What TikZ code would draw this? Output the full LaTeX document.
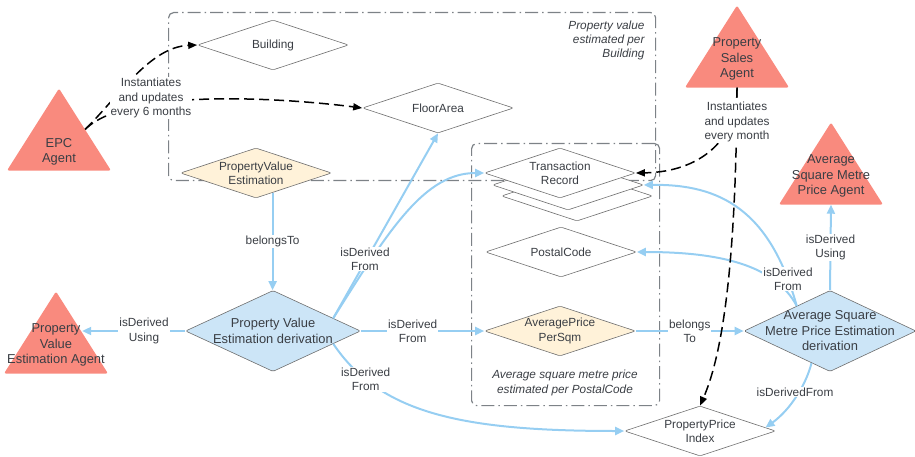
\documentclass[tikz,border=0pt]{standalone}
\usepackage{fontspec}
\setmainfont{Liberation Sans}
\usetikzlibrary{shapes.geometric, arrows.meta, positioning, calc}
\definecolor{agentred}{RGB}{249,138,126}
\definecolor{derivblue}{RGB}{204,229,247}
\definecolor{instyellow}{RGB}{255,242,217}
\definecolor{linkblue}{RGB}{150,206,242}
\definecolor{edgegray}{RGB}{110,110,110}
\definecolor{boxgray}{RGB}{125,130,135}
\definecolor{textgray}{RGB}{58,62,68}
\tikzset{
  thing/.style={diamond, draw=edgegray, fill=white, minimum width=151pt,
                minimum height=50pt, inner sep=0pt, rounded corners=1.5pt, line width=0.6pt},
  instance/.style={thing, fill=instyellow},
  deriv/.style={thing, fill=derivblue, minimum width=175pt, minimum height=81pt},
  agent/.style={isosceles triangle, isosceles triangle stretches, shape border rotate=90,
                fill=agentred, minimum width=104pt, minimum height=82pt, inner sep=0pt,
                rounded corners=2pt, anchor=apex},
  dtext/.style={font=\fontsize{11.8}{14.2}\selectfont, text=textgray, align=center},
  bigtext/.style={font=\fontsize{12.9}{15.5}\selectfont, text=textgray, align=center},
  edgelabel/.style={dtext, fill=white, inner sep=1pt},
  boxnote/.style={font=\fontsize{11.8}{14.2}\selectfont\itshape, text=textgray, align=center},
  link/.style={-{Triangle[length=9pt, width=8pt]}, linkblue, line width=2pt},
  update/.style={-{Triangle[length=9pt, width=7pt]}, black, line width=1.5pt, dash pattern=on 10pt off 5pt},
  groupbox/.style={draw=boxgray, line width=1.2pt, rounded corners=5pt, anchor=north west,
                   dash pattern=on 13pt off 4pt on 1.5pt off 4pt},
}
\begin{document}
\begin{tikzpicture}[x=1pt, y=-1pt]
  \useasboundingbox (0,0) rectangle (915,457);

  % groups
  \node[groupbox, minimum width=487pt, minimum height=168pt] (bldgroup) at (168,12) {};
  \node[groupbox, minimum width=188pt, minimum height=262pt] (pcgroup) at (471,143) {};
  \node[boxnote, anchor=north east, align=right] (bldnote) at (648,17) {Property value\\estimated per\\Building};
  \node[boxnote] (pcnote) at (565,383) {Average square metre price\\estimated per PostalCode};

  % concepts
  \node[thing, label={[dtext]center:Building}] (building) at (273,45) {};
  \node[thing, label={[dtext]center:FloorArea}] (floorarea) at (438,108) {};
  \node[instance, label={[dtext]center:PropertyValue\\Estimation}] (pve) at (256,173) {};
  \node[thing] (trec3) at (577,196) {};
  \node[thing] (trec2) at (568,185) {};
  \node[thing, label={[dtext]center:Transaction\\Record}] (trec) at (560,173) {};
  \node[thing, label={[dtext]center:PostalCode}] (postcode) at (561,252) {};
  \node[instance, label={[dtext]center:AveragePrice\\PerSqm}] (avgprice) at (560,331) {};
  \node[thing, label={[dtext]center:PropertyPrice\\Index}] (ppi) at (700,431) {};
  \node[deriv, label={[bigtext]center:Property Value\\Estimation derivation}] (pved) at (273,331) {};
  \node[deriv, minimum width=172pt, label={[bigtext]center:Average Square\\Metre Price Estimation\\derivation}] (asmped) at (830,331) {};

  % agents
  \node[agent] (epc) at (59,88) {};
  \node[bigtext] (epctext) at (59,152) {EPC\\Agent};
  \node[agent] (sales) at (737,5) {};
  \node[bigtext] (salestext) at (737,59) {Property\\Sales\\Agent};
  \node[agent] (asmpagent) at (831,122) {};
  \node[bigtext] (asmptext) at (831,176) {Average\\Square Metre\\Price Agent};
  \node[agent] (pvagent) at (56,291) {};
  \node[bigtext] (pvtext) at (56,345) {Property\\Value\\Estimation Agent};

  % derivation links
  \draw[link] (pve.-50) -- (pve.-50 |- pved.north) node[edgelabel, midway] {belongsTo};
  \draw[link] (pved.west) -- (pved.west -| pvagent.right side) node[edgelabel, pos=0.4] {isDerived\\Using};
  \draw[link] (pved.east) -- (avgprice.west) node[edgelabel, pos=0.42] {isDerived\\From};
  \draw[link] (pved.12) -- (floorarea.south);
  \draw[link] (pved.12) .. controls (390,228) and (425,173) .. (trec.west);
  \node[edgelabel] (pvedfrom) at (365,259) {isDerived\\From};
  \draw[link] (pved.-12) .. controls (380,413) and (460,431) .. (ppi.west) node[edgelabel, pos=0.2] {isDerived\\From};
  \draw[link] (avgprice.east) -- (asmped.west) node[edgelabel, midway] {belongs\\To};
  \draw[link] (asmped.north) -- (asmpagent.lower side) node[edgelabel, midway] {isDerived\\Using};
  \draw[link] (asmped.143) .. controls (770,210) and (720,184) .. (trec2.east);
  \draw[link] (asmped.143) .. controls (775,265) and (720,252) .. (postcode.east);
  \node[edgelabel] (asmpedfrom) at (788,279) {isDerived\\From};
  \draw[link] (asmped.240) .. controls (806,385) and (790,410) .. (ppi.3);
  \node[edgelabel] (ppifrom) at (795,392) {isDerivedFrom};

  % agent updates
  \draw[update] (epc.right side) .. controls (120,95) and (150,47) .. (building.west);
  \draw[update] (epc.right side) .. controls (130,85) and (300,100) .. (floorarea.west);
  \node[edgelabel] (epcnote) at (151,98) {Instantiates\\and updates\\every 6 months};
  \draw[update] (sales.lower side) .. controls (738,140) and (700,172) .. (trec.east);
  \draw[update] (sales.lower side) .. controls (736,280) and (720,360) .. (ppi.north);
  \node[edgelabel] (salesnote) at (737,122) {Instantiates\\and updates\\every month};
\end{tikzpicture}
\end{document}
